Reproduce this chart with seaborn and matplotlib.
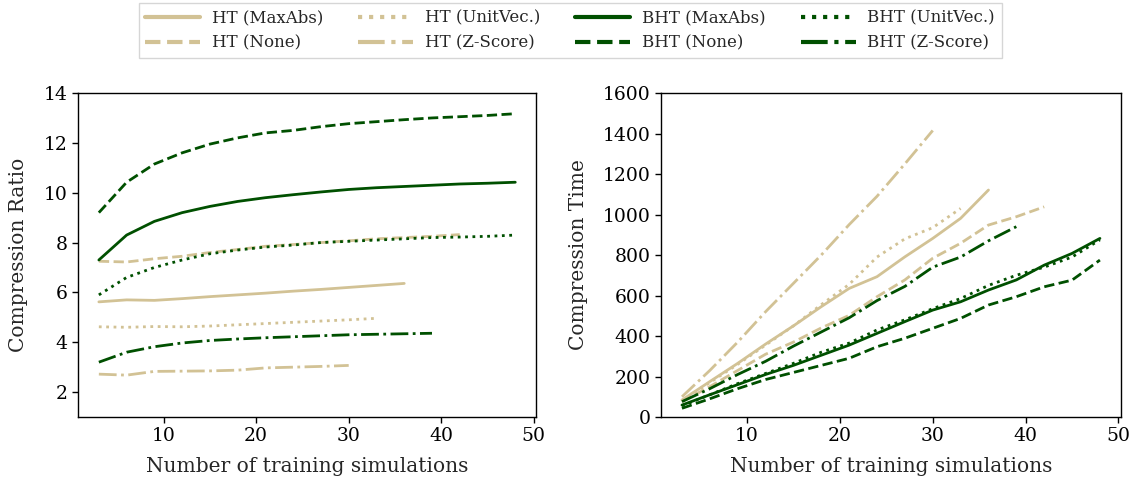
import matplotlib
matplotlib.use("Agg")
import matplotlib.pyplot as plt
from matplotlib.lines import Line2D
import seaborn as sns

sns.set_theme(style="ticks")
plt.rcParams["font.family"] = ["DejaVu Serif"]

TAN = "#D2C295"
GREEN = "#005000"

STYLES = {
    "MaxAbs": "-",
    "None": (0, (3.7, 1.6)),
    "UnitVec.": (0, (1, 1.65)),
    "Z-Score": (0, (6.4, 1.6, 1, 1.6)),
}

sims = [3, 6, 9, 12, 15, 18, 21, 24, 27, 30, 33, 36, 39, 42, 45, 48]

# compression ratio
ratio_ht_maxabs = [5.62, 5.70, 5.68, 5.75, 5.83, 5.90, 5.97, 6.05, 6.12, 6.20, 6.28, 6.36]
ratio_ht_none = [7.25, 7.22, 7.35, 7.45, 7.60, 7.72, 7.85, 7.92, 8.00, 8.07, 8.15, 8.20, 8.25, 8.32]
ratio_ht_unitvec = [4.62, 4.60, 4.63, 4.62, 4.65, 4.70, 4.75, 4.80, 4.85, 4.90, 4.96]
ratio_ht_zscore = [2.72, 2.68, 2.83, 2.84, 2.85, 2.88, 2.97, 3.00, 3.03, 3.07]
ratio_bht_maxabs = [7.30, 8.30, 8.85, 9.20, 9.45, 9.65, 9.80, 9.92, 10.03, 10.13, 10.20, 10.25,
                    10.30, 10.35, 10.38, 10.42]
ratio_bht_none = [9.20, 10.42, 11.15, 11.60, 11.95, 12.20, 12.40, 12.50, 12.65, 12.77, 12.85,
                  12.93, 13.00, 13.05, 13.10, 13.17]
ratio_bht_unitvec = [5.90, 6.60, 7.00, 7.30, 7.55, 7.70, 7.82, 7.90, 8.00, 8.05, 8.10, 8.15,
                     8.20, 8.22, 8.25, 8.30]
ratio_bht_zscore = [3.20, 3.60, 3.82, 3.97, 4.07, 4.13, 4.18, 4.22, 4.26, 4.30, 4.32, 4.34, 4.36]

# compression time
time_ht_maxabs = [84, 175, 265, 360, 450, 545, 635, 693, 791, 882, 981, 1121]
time_ht_none = [76, 150, 230, 310, 370, 440, 502, 594, 677, 784, 858, 948, 989, 1038]
time_ht_unitvec = [80, 170, 260, 355, 450, 555, 655, 790, 880, 935, 1030]
time_ht_zscore = [100, 230, 370, 520, 660, 800, 950, 1090, 1250, 1415]
time_bht_maxabs = [59, 110, 160, 210, 255, 305, 355, 413, 471, 528, 569, 627, 677, 750, 808, 882]
time_bht_none = [43, 90, 140, 185, 220, 255, 290, 347, 389, 438, 487, 553, 594, 643, 676, 775]
time_bht_unitvec = [55, 110, 165, 215, 265, 320, 365, 430, 480, 535, 585, 650, 700, 740, 790, 875]
time_bht_zscore = [76, 140, 210, 275, 350, 420, 490, 575, 645, 740, 790, 870, 940]

series = [
    ("HT", "MaxAbs", ratio_ht_maxabs, time_ht_maxabs),
    ("HT", "None", ratio_ht_none, time_ht_none),
    ("HT", "UnitVec.", ratio_ht_unitvec, time_ht_unitvec),
    ("HT", "Z-Score", ratio_ht_zscore, time_ht_zscore),
    ("BHT", "MaxAbs", ratio_bht_maxabs, time_bht_maxabs),
    ("BHT", "None", ratio_bht_none, time_bht_none),
    ("BHT", "UnitVec.", ratio_bht_unitvec, time_bht_unitvec),
    ("BHT", "Z-Score", ratio_bht_zscore, time_bht_zscore),
]

fig = plt.figure(figsize=(11.31, 4.78), dpi=100)
ax1 = fig.add_axes([0.069, 0.1276, 0.405, 0.6778])
ax2 = fig.add_axes([0.5845, 0.1276, 0.4065, 0.6778])

handles = []
for model, norm, ratio, ctime in series:
    color = TAN if model == "HT" else GREEN
    ls = STYLES[norm]
    sns.lineplot(x=sims[:len(ratio)], y=ratio, color=color, linestyle=ls, linewidth=2, ax=ax1)
    sns.lineplot(x=sims[:len(ctime)], y=ctime, color=color, linestyle=ls, linewidth=2, ax=ax2)
    handles.append(Line2D([], [], color=color, linestyle=ls, linewidth=3,
                          label=f"{model} ({norm})"))

ax1.set_ylim(1, 14)
ax1.set_yticks([2, 4, 6, 8, 10, 12, 14])
ax1.set_ylabel("Compression Ratio", fontsize=14.5, labelpad=11)
ax2.set_ylim(0, 1600)
ax2.set_yticks(range(0, 1601, 200))
ax2.set_ylabel("Compression Time", fontsize=14.5, labelpad=11)

for ax in (ax1, ax2):
    ax.set_xticks([10, 20, 30, 40, 50])
    ax.set_xlabel("Number of training simulations", fontsize=14.5, labelpad=8)
    ax.tick_params(labelsize=13.5, length=4, width=1, colors="black")
    for spine in ax.spines.values():
        spine.set_color("black")
        spine.set_linewidth(1)

fig.legend(handles=handles, loc="upper center", bbox_to_anchor=(0.504, 0.996), ncol=4,
           fontsize=12, columnspacing=2.1, handlelength=3.3, handletextpad=0.7,
           borderaxespad=0.05, frameon=True, fancybox=False, edgecolor="#cccccc")

fig.savefig("out.png", dpi=100)
